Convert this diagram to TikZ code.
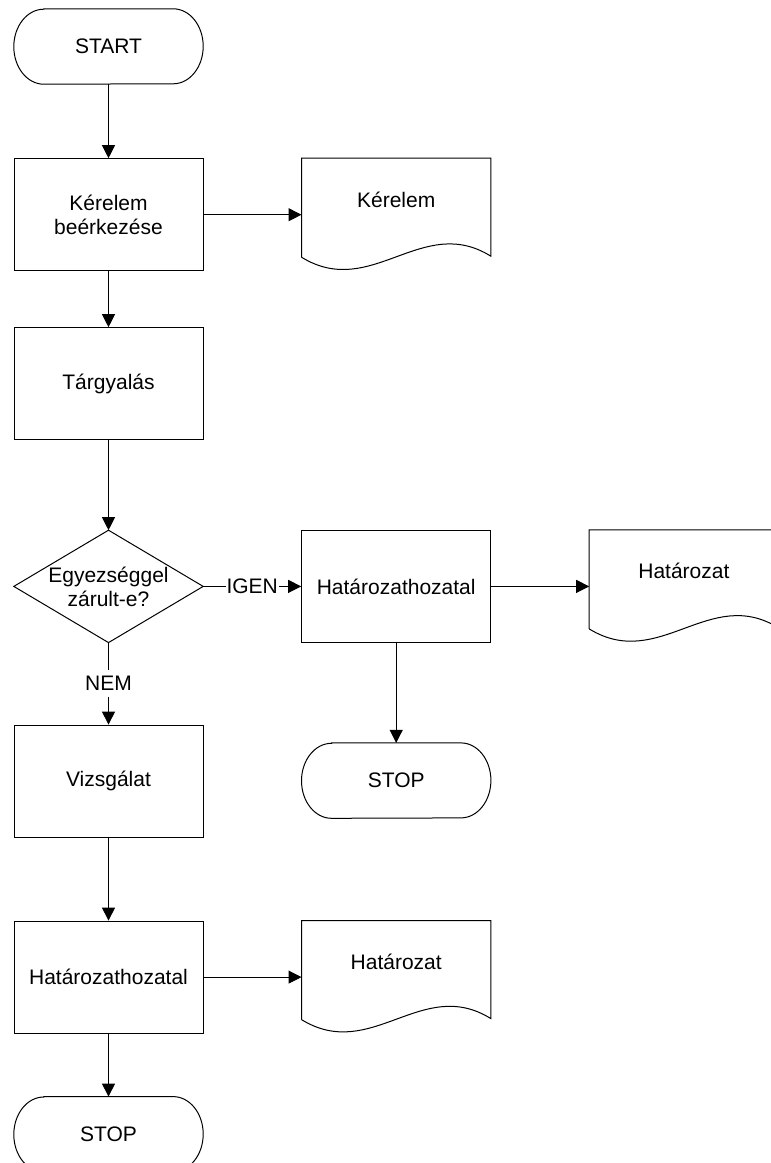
\documentclass[tikz,border=0pt]{standalone}
\usepackage{fontspec}
\setmainfont{Liberation Sans}
\usetikzlibrary{positioning,arrows.meta}

\begin{document}
\begin{tikzpicture}[
    x=1pt, y=1pt,
    node distance=80pt,
    every node/.style={font=\fontsize{21}{24}\selectfont},
    line/.style={line width=1pt},
    arrow/.style={line width=1pt, -{Triangle[length=13pt,width=13pt]}},
    box/.style={draw, line width=1pt, minimum width=189pt, minimum height=112pt, inner sep=2pt, align=center},
    term/.style={minimum width=189pt, minimum height=75pt, inner sep=0pt},
    decision/.style={minimum width=189pt, minimum height=112pt, inner sep=0pt, align=center},
    doc/.style={minimum width=189pt, minimum height=82pt, inner sep=0pt},
    tag/.style={fill=white, inner xsep=1pt, inner ysep=6pt}
]

\useasboundingbox (0,0) rectangle (771,-1163);

% bal oldali ág
\node[term] (start) at (108.5,-46.5) {START};
\node[box, below=74pt of start] (box1) {Kérelem\\beérkezése};
\node[box, below=56pt of box1] (box2) {Tárgyalás};
\node[decision, below=90pt of box2] (dec) {Egyezséggel\\zárult-e?};
\node[box, below=82pt of dec] (vizs) {Vizsgálat};
\node[box, below=83pt of vizs] (hat2) {Határozathozatal};
\node[term, below=63pt of hat2] (stop2) {STOP};

% jobb oldali elemek
\node[doc, right=98pt of box1.north east, anchor=north west] (doc1) {Kérelem};
\node[box, right=98pt of dec] (hat1) {Határozathozatal};
\node[doc, right=98pt of hat1.north east, anchor=north west] (doc2) {Határozat};
\node[term, below=100pt of hat1] (stop1) {STOP};
\node[doc, right=98pt of hat2.north east, anchor=north west] (doc3) {Határozat};

% körvonalak
\foreach \t in {start,stop1,stop2}
  \draw[line] ([xshift=30pt]\t.north west) -- ([xshift=-30pt]\t.north east)
    arc[start angle=90, end angle=-90, x radius=30pt, y radius=37.5pt]
    -- ([xshift=30pt]\t.south west)
    arc[start angle=270, end angle=90, x radius=30pt, y radius=37.5pt] -- cycle;
\foreach \d in {doc1,doc2,doc3}
  \draw[line] ([yshift=-99pt]\d.north west) -- (\d.north west) -- (\d.north east)
    -- ([yshift=-98pt]\d.north east)
    .. controls ([xshift=-69pt,yshift=-55pt]\d.north east) and ([xshift=70pt,yshift=-142pt]\d.north west)
    .. ([yshift=-99pt]\d.north west);
\draw[line] (dec.north) -- (dec.east) -- (dec.south) -- (dec.west) -- cycle;

% nyilak
\draw[arrow] (start.south) -- (box1.north);
\draw[arrow] (box1.east) -- (box1.east -| doc1.west);
\draw[arrow] (box1) -- (box2);
\draw[arrow] (box2) -- (dec);
\draw[arrow] (dec) -- node[tag] {IGEN} (hat1);
\draw[arrow] (hat1.east) -- (hat1.east -| doc2.west);
\draw[arrow] (hat1) -- (stop1);
\draw[arrow] (dec) -- node[tag] {NEM} (vizs);
\draw[arrow] (vizs) -- (hat2);
\draw[arrow] (hat2.east) -- (hat2.east -| doc3.west);
\draw[arrow] (hat2) -- (stop2);

\end{tikzpicture}
\end{document}
